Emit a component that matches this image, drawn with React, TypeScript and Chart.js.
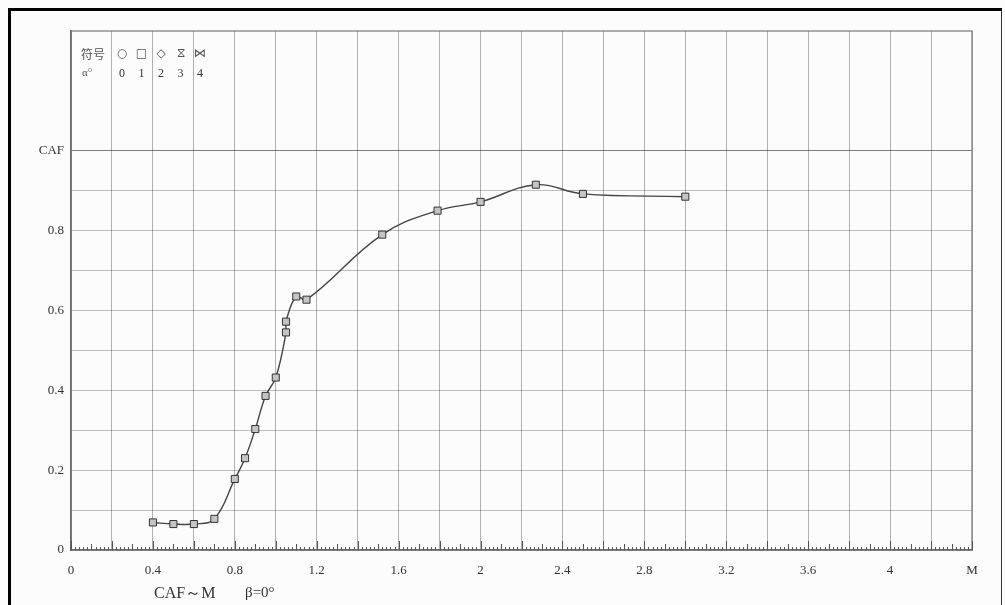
import React, { useEffect, useRef } from "react";
import { Chart, registerables } from "chart.js";

Chart.register(...registerables);

// Data (Mach number vs CAF)
const machNumbers = [0.4, 0.5, 0.6, 0.7, 0.8, 0.85, 0.9, 0.95, 1.0, 1.05, 1.05, 1.1, 1.15, 1.52, 1.79, 2.0, 2.27, 2.5, 3.0];
const cafValues = [0.069, 0.065, 0.065, 0.078, 0.178, 0.23, 0.303, 0.386, 0.432, 0.545, 0.572, 0.635, 0.627, 0.79, 0.85, 0.872, 0.915, 0.892, 0.885];

const xTickLabels = ["0", "0.4", "0.8", "1.2", "1.6", "2", "2.4", "2.8", "3.2", "3.6", "4", "M"];
const yTickLabels = ["0", "0.2", "0.4", "0.6", "0.8", "CAF"];
const legendSymbols = ["○", "□", "◇", "⧖", "⋈"];
const legendAngles = ["0", "1", "2", "3", "4"];

const SERIF = '"Liberation Serif", "Times New Roman", serif';

export default function App() {
  const canvasRef = useRef<HTMLCanvasElement | null>(null);

  useEffect(() => {
    if (!canvasRef.current) return;
    const points = machNumbers.map((m, i) => ({ x: m, y: cafValues[i] }));

    const framePlugin = {
      id: "frameAndMinorTicks",
      beforeDatasetsDraw(chart: any) {
        const { ctx, chartArea, scales } = chart;
        const xs = scales.x;
        ctx.save();
        ctx.strokeStyle = "#777";
        ctx.lineWidth = 1.2;
        ctx.strokeRect(chartArea.left, chartArea.top, chartArea.right - chartArea.left, chartArea.bottom - chartArea.top);
        ctx.strokeStyle = "#555";
        ctx.lineWidth = 1;
        const n = Math.round((xs.max - xs.min) / 0.02);
        for (let i = 0; i <= n; i++) {
          const v = xs.min + i * 0.02;
          const px = Math.round(xs.getPixelForValue(v)) + 0.5;
          const len = i % 10 === 0 ? 9 : i % 5 === 0 ? 6 : 3;
          ctx.beginPath();
          ctx.moveTo(px, chartArea.bottom);
          ctx.lineTo(px, chartArea.bottom - len);
          ctx.stroke();
        }
        ctx.restore();
      },
    };

    const chart = new Chart(canvasRef.current, {
      type: "line",
      data: {
        datasets: [
          {
            data: points,
            borderColor: "#444",
            borderWidth: 1.4,
            tension: 0.4,
            pointStyle: "rect",
            pointRadius: 5,
            pointBackgroundColor: "#c4c4c4",
            pointBorderColor: "#333",
            pointBorderWidth: 1,
          },
          {
            data: points,
            showLine: false,
            pointStyle: "crossRot",
            pointRadius: 3.5,
            pointBorderColor: "#444",
            pointBorderWidth: 1,
          },
        ],
      },
      options: {
        animation: false,
        responsive: false,
        layout: { padding: { top: 31, right: 33, left: 0, bottom: 0 } },
        plugins: { legend: { display: false }, tooltip: { enabled: false } },
        scales: {
          x: {
            type: "linear",
            min: 0,
            max: 4.4,
            afterFit: (s: any) => {
              s.height = 55;
            },
            ticks: {
              stepSize: 0.2,
              autoSkip: false,
              maxRotation: 0,
              padding: 13,
              color: "#333",
              font: { family: SERIF, size: 13 },
              callback: (v: any) => {
                const k = Math.round(Number(v) / 0.2);
                return k % 2 === 0 ? xTickLabels[k / 2] ?? "" : "";
              },
            },
            grid: { color: "rgba(0,0,0,0.3)", lineWidth: 1, drawTicks: false },
            border: { color: "#555", width: 1.5 },
          },
          y: {
            type: "linear",
            min: 0,
            max: 1.3,
            afterFit: (s: any) => {
              s.width = 71;
            },
            ticks: {
              stepSize: 0.1,
              autoSkip: false,
              padding: 7,
              color: "#333",
              font: { family: SERIF, size: 13 },
              callback: (v: any) => {
                const k = Math.round(Number(v) * 10);
                return k % 2 === 0 && k <= 10 ? yTickLabels[k / 2] : "";
              },
            },
            grid: {
              drawTicks: false,
              lineWidth: 1,
              color: (c: any) => {
                const k = Math.round(Number(c.tick?.value) * 10);
                if (k > 10) return "rgba(0,0,0,0)";
                return k === 10 ? "rgba(0,0,0,0.5)" : "rgba(0,0,0,0.25)";
              },
            },
            border: { color: "#555", width: 1.5 },
          },
        },
      },
      plugins: [framePlugin],
    } as any);

    return () => chart.destroy();
  }, []);

  const txt: React.CSSProperties = { position: "absolute", fontFamily: SERIF, color: "#333", whiteSpace: "nowrap", lineHeight: 1 };

  return (
    <div style={{ position: "fixed", left: 0, top: 0, width: 1005, height: 605, background: "#fff", overflow: "hidden" }}>
      <canvas ref={canvasRef} width={1005} height={605} style={{ position: "absolute", left: 0, top: 0, background: "#fcfcfc" }} />
      <div
        style={{
          position: "absolute",
          left: 8,
          top: 8,
          width: 990,
          height: 600,
          borderTop: "3px solid #000",
          borderLeft: "3px solid #000",
          borderRight: "1px solid #333",
          pointerEvents: "none",
        }}
      />
      <span style={{ ...txt, left: 81, top: 48, fontSize: 12, fontFamily: '"Noto Sans CJK SC", sans-serif', color: "#555" }}>符号</span>
      {legendSymbols.map((s, i) => (
        <span key={"s" + i} style={{ ...txt, left: 122 + i * 19.5, top: 47, fontSize: 12, transform: "translateX(-50%)", fontFamily: '"DejaVu Sans", sans-serif', color: "#555" }}>
          {s}
        </span>
      ))}
      <span style={{ ...txt, left: 82, top: 67, fontSize: 11, color: "#555" }}>α°</span>
      {legendAngles.map((s, i) => (
        <span key={"a" + i} style={{ ...txt, left: 122 + i * 19.5, top: 67, fontSize: 12, transform: "translateX(-50%)" }}>
          {s}
        </span>
      ))}
      <span style={{ ...txt, left: 154, top: 585, fontSize: 16 }}>CAF～M</span>
      <span style={{ ...txt, left: 245, top: 585, fontSize: 15 }}>β=0°</span>
    </div>
  );
}
